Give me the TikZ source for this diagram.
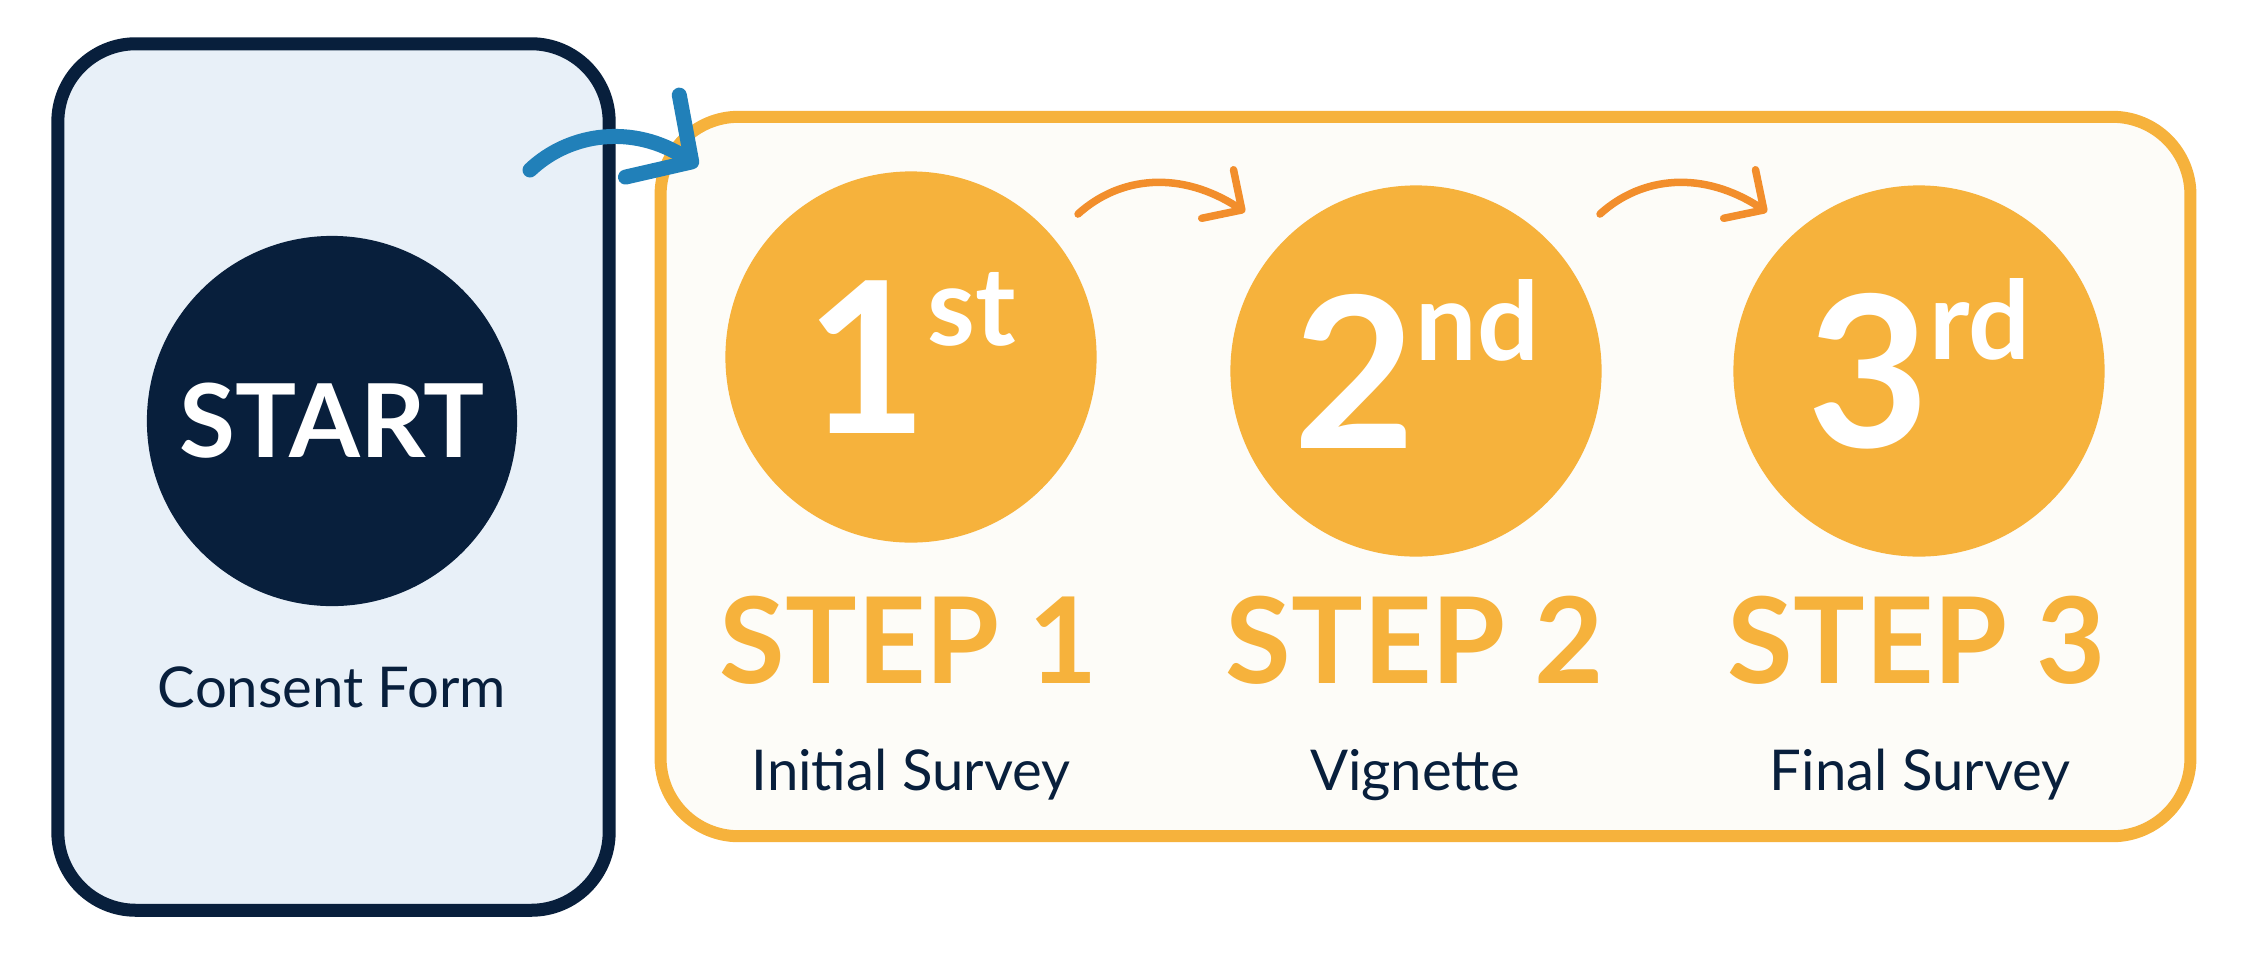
\documentclass[tikz,border=0pt]{standalone}
\usepackage{fontspec}
\setmainfont{Lato}
\usetikzlibrary{arrows.meta, positioning}

\definecolor{navy}{HTML}{081F3C}
\definecolor{paleblue}{HTML}{E8F0F8}
\definecolor{gold}{HTML}{F6B23C}
\definecolor{cream}{HTML}{FDFCF8}
\definecolor{linkblue}{HTML}{2180B9}
\definecolor{linkorange}{HTML}{F28E2C}

\newcommand{\stepnum}[2]{#1\smash{\raisebox{25pt}{\fontsize{31}{31}\selectfont #2}}}

\begin{document}
\begin{tikzpicture}[
    x=0.01cm, y=-0.01cm,
    startbox/.style={rectangle, draw=navy, fill=paleblue, line width=0.13cm,
                     rounded corners=0.78cm, minimum width=5.51cm, minimum height=8.66cm},
    stepsbox/.style={rectangle, draw=gold, fill=cream, line width=0.12cm,
                     rounded corners=0.78cm, minimum width=15.29cm, minimum height=7.19cm},
    startdot/.style={circle, fill=navy, minimum size=3.7cm, inner sep=0pt,
                     text=white, font=\fontsize{29}{29}\selectfont\bfseries},
    stepdot/.style={circle, fill=gold, minimum size=3.71cm, inner sep=0pt,
                    text=white, font=\fontsize{60}{60}\selectfont\bfseries},
    steplabel/.style={anchor=base, text=gold, font=\fontsize{34}{34}\selectfont\bfseries},
    caption/.style={anchor=base, text=navy, font=\fontsize{16}{16}\selectfont},
    bigarr/.style={draw=linkblue, line width=0.15cm, line cap=round,
                   -{Straight Barb[length=0.47cm, width=0.98cm, line cap=round, line join=round]}},
    arr/.style={draw=linkorange, line width=0.075cm, line cap=round,
                -{Straight Barb[length=0.29cm, width=0.58cm, line cap=round, line join=round]}}
]
\useasboundingbox (0,0) rectangle (2254,975);

\node[startbox] (consent) at (333.5,477) {};
\node[stepsbox] (steps) at (1425.5,476.5) {};

\node[startdot] (start) at (332,421) {START};
\node[caption] (consentlbl) at (332,707) {Consent Form};

\node[stepdot] (c1) at (911,357) {\stepnum{1}{st}};
\node[stepdot] (c2) at (1416,371) {\stepnum{2}{nd}};
\node[stepdot] (c3) at (1919,371) {\stepnum{3}{rd}};

\node[steplabel] (l1) at (909,683) {STEP 1};
\node[steplabel] (l2) at (1415,683) {STEP 2};
\node[steplabel] (l3) at (1917,683) {STEP 3};

\node[caption] (d1) at (911,790) {Initial Survey};
\node[caption] (d2) at (1415,790) {Vignette};
\node[caption] (d3) at (1920,790) {Final Survey};

\coordinate (b0) at (530,170);
\coordinate (b1) at (698,166);
\coordinate (o0) at (1078,214);
\coordinate (o1) at (1245,212);
\coordinate (p0) at (1600,214);
\coordinate (p1) at (1767,212);

\draw[bigarr] (b0) .. controls (570,132) and (634,124) .. (b1);
\draw[arr] (o0) .. controls (1120,176) and (1181,170) .. (o1);
\draw[arr] (p0) .. controls (1642,176) and (1703,170) .. (p1);
\end{tikzpicture}
\end{document}
